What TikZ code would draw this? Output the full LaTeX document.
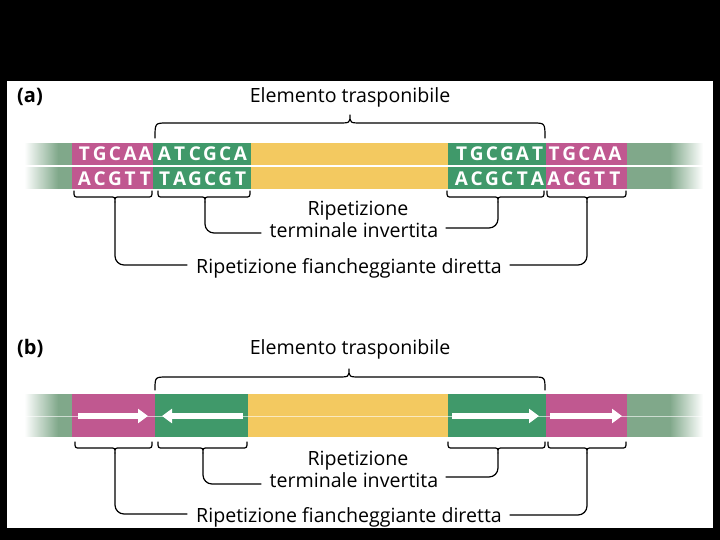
\documentclass[tikz,border=0pt]{standalone}
\usepackage{fontspec}
\setmainfont{Open Sans}
\usetikzlibrary{arrows.meta}
\definecolor{mag}{RGB}{192,88,144}
\definecolor{grn}{RGB}{64,153,106}
\definecolor{yel}{RGB}{243,201,96}
\definecolor{gg}{RGB}{128,168,138}
\newcommand\seqrow[4]{\foreach \ch [count=\i] in {#4} {\node[seq] (#1\i) at ({#2+15.2*(\i-1)},#3) {\ch};}}
\newcommand\lowbrace[4]{%
  \draw[wire] (#1,#4) .. controls (#1,#4+6) .. (#1+5,#4+6) -- (#3-5,#4+6)
    .. controls (#3,#4+6) .. (#3,#4+11) .. controls (#3,#4+6) .. (#3+5,#4+6)
    -- (#2-5,#4+6) .. controls (#2,#4+6) .. (#2,#4);}
\newcommand\topbrace[5]{% x1 x2 c yend yline
  \draw[wire] (#1,#4) .. controls (#1,#5) .. (#1+12,#5) -- (#3-12,#5)
    .. controls (#3,#5) .. (#3,#5-8) .. controls (#3,#5) .. (#3+12,#5)
    -- (#2-12,#5) .. controls (#2,#5) .. (#2,#4);}
\newcommand\fadeband[2]{% ytop ybottom
  \foreach \k in {0,...,34} {\pgfmathtruncatemacro\p{100*\k/34}
    \fill[gg!\p!white] (24+\k,#1) rectangle (25.3+\k,#2);}
  \fill[gg] (58.5,#1) rectangle (72,#2);
  \fill[gg] (627,#1) rectangle (671,#2);
  \foreach \k in {0,...,33} {\pgfmathtruncatemacro\p{100-100*\k/33}
    \fill[gg!\p!white] (670+\k,#1) rectangle (671.3+\k,#2);}}
\begin{document}
\begin{tikzpicture}[x=1pt,y=-1pt,
  lbl/.style={font=\fontsize{19.6}{24}\selectfont, inner sep=0pt, anchor=base},
  seq/.style={font=\bfseries\fontsize{19}{22}\selectfont, text=white, inner sep=0pt, anchor=base},
  wire/.style={line width=1.2pt, line cap=round, line join=round},
  lead/.style={wire, rounded corners=9pt},
  warrow/.style={white, line width=5.5pt, -{Triangle[length=10pt,width=14pt]}}]
\useasboundingbox (0,0) rectangle (720,540);
\fill[black] (0,0) rectangle (720,540);
\fill[white] (7,81) rectangle (713,528);

% ---------------- (a) ----------------
\node[lbl, anchor=base west, font=\bfseries\fontsize{20}{24}\selectfont] (la) at (17,103) {(a)};
\node[lbl] (elemA) at (350,103) {Elemento trasponibile};

\fadeband{143}{189}
\fill[mag] (72,143) rectangle (153,189);
\fill[grn] (153,143) rectangle (251,189);
\fill[yel] (251,143) rectangle (448,189);
\fill[grn] (448,143) rectangle (546,189);
\fill[mag] (546,143) rectangle (627,189);
\draw[white, line width=1.3pt] (24,166) -- (704,166);

\seqrow{ta}{84.5}{160.5}{T,G,C,A,A}
\seqrow{tb}{164.5}{160.5}{A,T,C,G,C,A}
\seqrow{tc}{461.5}{160.5}{T,G,C,G,A,T}
\seqrow{td}{554}{160.5}{T,G,C,A,A}
\seqrow{ba}{84.5}{185.5}{A,C,G,T,T}
\seqrow{bb}{164.5}{185.5}{T,A,G,C,G,T}
\seqrow{bc}{461.5}{185.5}{A,C,G,C,T,A}
\seqrow{bd}{554}{185.5}{A,C,G,T,T}

\topbrace{155}{545}{350}{138}{123}

\lowbrace{74}{152}{115}{191}
\lowbrace{158}{250}{205}{191}
\lowbrace{447}{544}{498}{191}
\lowbrace{547}{626}{587}{191}

\node[lbl] (ripA) at (358,215) {Ripetizione};
\node[lbl] (termA) at (354,237) {terminale invertita};
\node[lbl] (flankA) at (349,273) {Ripetizione fiancheggiante diretta};

\coordinate (tla) at (261,233);
\coordinate (tra) at (446,228);
\coordinate (fla) at (187,265);
\coordinate (fra) at (510,265);
\draw[lead] (205,202) |- (tla);
\draw[lead] (498,202) |- (tra);
\draw[lead] (115,202) |- (fla);
\draw[lead] (587,202) |- (fra);

% ---------------- (b) ----------------
\node[lbl, anchor=base west, font=\bfseries\fontsize{20}{24}\selectfont] (lb) at (17,354) {(b)};
\node[lbl] (elemB) at (350,354) {Elemento trasponibile};

\fadeband{394}{437}
\fill[mag] (72,394) rectangle (155,437);
\fill[grn] (155,394) rectangle (248,437);
\fill[yel] (248,394) rectangle (448,437);
\fill[grn] (448,394) rectangle (546,437);
\fill[mag] (546,394) rectangle (627,437);
\draw[white, opacity=0.6, line width=1pt] (24,416) -- (704,416);

\coordinate (a1s) at (78,416);  \coordinate (a1e) at (148,416);
\coordinate (a2s) at (243,416); \coordinate (a2e) at (162,416);
\coordinate (a3s) at (452,416); \coordinate (a3e) at (539,416);
\coordinate (a4s) at (550,416); \coordinate (a4e) at (622,416);
\draw[warrow] (a1s) -- (a1e);
\draw[warrow] (a2s) -- (a2e);
\draw[warrow] (a3s) -- (a3e);
\draw[warrow] (a4s) -- (a4e);

\topbrace{155}{545}{349}{390}{377}

\lowbrace{75}{152}{115}{442}
\lowbrace{158}{247}{203}{442}
\lowbrace{448}{545}{498}{442}
\lowbrace{548}{626}{587}{442}

\node[lbl] (ripB) at (358,465) {Ripetizione};
\node[lbl] (termB) at (354,487) {terminale invertita};
\node[lbl] (flankB) at (349,522) {Ripetizione fiancheggiante diretta};

\coordinate (tlb) at (261,484);
\coordinate (trb) at (446,477);
\coordinate (flb) at (187,514);
\coordinate (frb) at (510,515);
\draw[lead] (203,453) |- (tlb);
\draw[lead] (498,453) |- (trb);
\draw[lead] (115,453) |- (flb);
\draw[lead] (587,453) |- (frb);
\end{tikzpicture}
\end{document}
